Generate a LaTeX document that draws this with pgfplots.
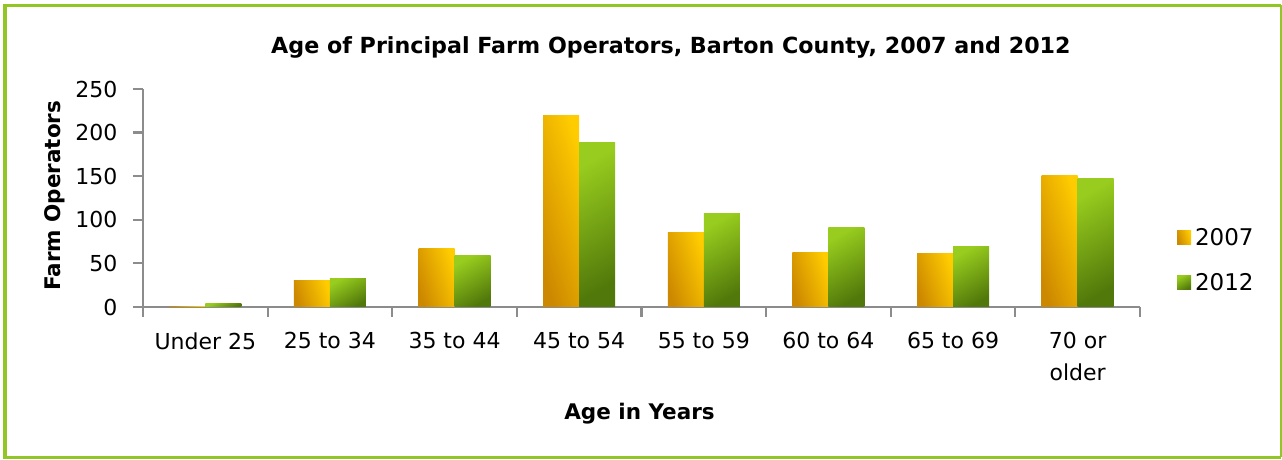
\documentclass[border=0pt]{standalone}
\usepackage{pgfplots}
\pgfplotsset{compat=1.18}
\usepackage{fontspec}
\setmainfont{DejaVu Sans}
\definecolor{framegreen}{RGB}{146,198,36}
\definecolor{axisgray}{RGB}{140,140,140}
\definecolor{orDark}{RGB}{204,136,0}
\definecolor{orLight}{RGB}{255,204,0}
\definecolor{grLight}{RGB}{152,204,30}
\definecolor{grDark}{RGB}{80,120,10}
\pgfplotsset{
  barA/.style={ybar, bar width=36pt, bar shift=-18pt, draw=none, shading=axis, top color=orLight, bottom color=orDark, shading angle=-72},
  barB/.style={ybar, bar width=36pt, bar shift=18pt, draw=none, shading=axis, top color=grLight, bottom color=grDark, shading angle=30},
}
\begin{document}
\begin{tikzpicture}[x=1pt,y=1pt]
\useasboundingbox (0,0) rectangle (1282,460);
\draw[framegreen,line width=3.5pt] (1281,2.5) -- (5.2,2.5) -- (5.2,454.5) -- (1281,454.5);
\draw[framegreen,line width=1.5pt] (1281,2.5) -- (1281,454.5);
\begin{axis}[
  at={(143pt,153pt)}, anchor=south west,
  scale only axis, width=997pt, height=218pt,
  xmin=-0.5, xmax=7.5, ymin=0, ymax=250,
  axis lines*=left,
  axis line style={axisgray,line width=2.2pt},
  every tick/.append style={axisgray,line width=2.2pt},
  xtick style={axisgray,line width=2.2pt},
  ytick style={axisgray,line width=2.2pt},
  tick align=outside,
  major tick length=10pt,
  ytick={0,50,...,250},
  yticklabel={\pgfmathprintnumber{\tick}\hspace*{12pt}},
  xtick={-0.5,0.5,...,7.5},
  x tick label as interval,
  xticklabels={Under 25,25 to 34,35 to 44,45 to 54,55 to 59,60 to 64,65 to 69,{70 or\\older}},
  xticklabel style={align=center, font=\fontsize{22}{32}\selectfont, yshift=-12pt},
  yticklabel style={font=\fontsize{22}{26}\selectfont},
  /pgf/number format/assume math mode=true,
  title={\bfseries Age of Principal Farm Operators, Barton County, 2007 and 2012},
  title style={at={(axis description cs:0.5295,1.165)}, anchor=center, font=\fontsize{22.2}{26}\selectfont},
  xlabel={\bfseries Age in Years},
  xlabel style={at={(axis description cs:0.498,-0.487)}, anchor=center, font=\fontsize{21.5}{25}\selectfont},
  ylabel={\bfseries Farm Operators},
  ylabel style={at={(axis description cs:-0.0885,0.51)}, anchor=center, font=\fontsize{21.5}{25}\selectfont},
  legend style={at={(axis description cs:1.037,0.37)}, anchor=north west, draw=none, fill=none,
    font=\fontsize{23}{27}\selectfont, row sep=22pt, inner sep=0pt,
    nodes={inner xsep=4pt}},
  legend cell align=left,
  legend image code/.code={\path[#1,draw=none] (0pt,-7pt) rectangle (14pt,7pt);},
  clip=false,
]
\addplot[barA] coordinates {(0,1)};
\addlegendentry{2007}
\addplot[barB] coordinates {(0,4)};
\addlegendentry{2012}
\addplot[barA,forget plot] coordinates {(1,30)};
\addplot[barA,forget plot] coordinates {(2,67)};
\addplot[barA,forget plot] coordinates {(3,220)};
\addplot[barA,forget plot] coordinates {(4,86)};
\addplot[barA,forget plot] coordinates {(5,63)};
\addplot[barA,forget plot] coordinates {(6,61)};
\addplot[barA,forget plot] coordinates {(7,151)};
\addplot[barB,forget plot] coordinates {(1,33)};
\addplot[barB,forget plot] coordinates {(2,59)};
\addplot[barB,forget plot] coordinates {(3,189)};
\addplot[barB,forget plot] coordinates {(4,107)};
\addplot[barB,forget plot] coordinates {(5,91)};
\addplot[barB,forget plot] coordinates {(6,69)};
\addplot[barB,forget plot] coordinates {(7,147)};
\end{axis}
\end{tikzpicture}
\end{document}
